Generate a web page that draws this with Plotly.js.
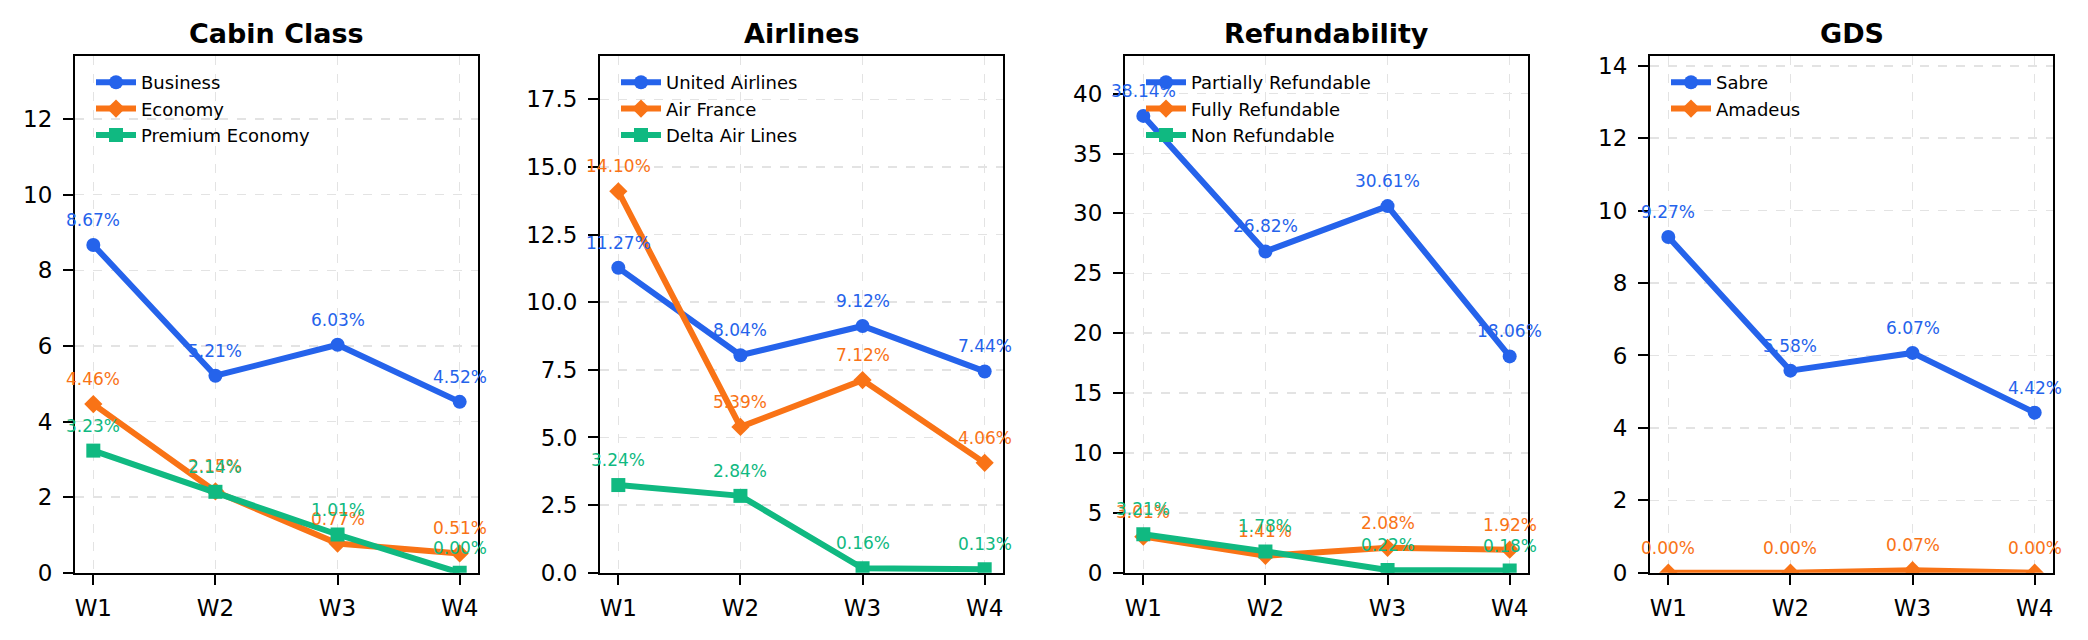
<!DOCTYPE html>
<html>
<head>
<meta charset="utf-8">
<script src="https://cdn.plot.ly/plotly-3.0.1.min.js"></script>
<style>
  html, body { margin: 0; padding: 0; background: #fff; }
  #chart { width: 2088px; height: 640px; }
</style>
</head>
<body>
<div id="chart"></div>
<script>
// weeks on the x axis
var weeks = ["W1", "W2", "W3", "W4"];

// Cabin Class
var cabinNames = ["Business", "Economy", "Premium Economy"];
var business = [8.67, 5.21, 6.03, 4.52];
var economy = [4.46, 2.15, 0.77, 0.51];
var premiumEconomy = [3.23, 2.14, 1.01, 0.00];

// Airlines
var airlineNames = ["United Airlines", "Air France", "Delta Air Lines"];
var united = [11.27, 8.04, 9.12, 7.44];
var airFrance = [14.10, 5.39, 7.12, 4.06];
var delta = [3.24, 2.84, 0.16, 0.13];

// Refundability
var refundNames = ["Partially Refundable", "Fully Refundable", "Non Refundable"];
var partiallyRefundable = [38.14, 26.82, 30.61, 18.06];
var fullyRefundable = [3.01, 1.41, 2.08, 1.92];
var nonRefundable = [3.21, 1.78, 0.22, 0.18];

// GDS
var gdsNames = ["Sabre", "Amadeus"];
var sabre = [9.27, 5.58, 6.07, 4.42];
var amadeus = [0.00, 0.00, 0.07, 0.00];

var panelTitles = ["Cabin Class", "Airlines", "Refundability", "GDS"];

var colors = ["#2563eb", "#f97316", "#10b981"];
var symbols = ["circle", "diamond", "square"];
var markerSizes = [14, 14, 14];
var FONT = "DejaVu Sans, Verdana, sans-serif";

var panels = [
  { names: cabinNames, series: [business, economy, premiumEconomy], dtick: 2, fmt: "d" },
  { names: airlineNames, series: [united, airFrance, delta], dtick: 2.5, fmt: ".1f" },
  { names: refundNames, series: [partiallyRefundable, fullyRefundable, nonRefundable], dtick: 5, fmt: "d" },
  { names: gdsNames, series: [sabre, amadeus], dtick: 2, fmt: "d" }
];

// panel placement in pixels (left, right) and plot top/bottom
var W = 2088, H = 640;
var lefts = [75, 600, 1125, 1650];
var panelW = 403;
var plotTop = 56, plotBottom = 572.7;
var yDom = [(H - plotBottom) / H, (H - plotTop) / H];

var traces = [];
var annotations = [];
var layout = {
  width: W,
  height: H,
  margin: { l: 0, r: 0, t: 0, b: 0 },
  paper_bgcolor: "#fff",
  plot_bgcolor: "#fff",
  font: { family: FONT, color: "#000" },
  showlegend: true
};

panels.forEach(function (p, i) {
  var n = i === 0 ? "" : String(i + 1);
  var xa = "x" + n, ya = "y" + n;
  var legendId = "legend" + n;
  var maxVal = 0;

  p.series.forEach(function (vals, j) {
    vals.forEach(function (v) { if (v > maxVal) maxVal = v; });
    traces.push({
      x: weeks,
      y: vals,
      name: p.names[j],
      type: "scatter",
      mode: "lines+markers",
      xaxis: xa,
      yaxis: ya,
      legend: legendId,
      line: { color: colors[j], width: 6 },
      marker: { color: colors[j], symbol: symbols[j], size: markerSizes[j] },
      hoverinfo: "skip"
    });
    vals.forEach(function (v, k) {
      annotations.push({
        x: weeks[k],
        y: v,
        xref: xa,
        yref: ya,
        text: v.toFixed(2) + "%",
        showarrow: false,
        xanchor: "center",
        yanchor: "bottom",
        yshift: 13,
        font: { family: FONT, size: 17, color: colors[j] }
      });
    });
  });

  var x0 = lefts[i] / W, x1 = (lefts[i] + panelW) / W;
  var axisStyle = {
    showline: true,
    mirror: true,
    linecolor: "#000",
    linewidth: 2,
    ticks: "outside",
    ticklen: 10,
    tickwidth: 2,
    tickcolor: "#000",
    tickfont: { family: FONT, size: 23, color: "#000" },
    showgrid: true,
    gridcolor: "#e3e3e3",
    griddash: "dash",
    gridwidth: 1.5,
    zeroline: false,
    fixedrange: true
  };

  layout["xaxis" + n] = Object.assign({}, axisStyle, {
    domain: [x0, x1],
    anchor: ya,
    type: "category",
    range: [-0.15, 3.15],
    ticklabelstandoff: 4
  });
  layout["yaxis" + n] = Object.assign({}, axisStyle, {
    domain: yDom,
    anchor: xa,
    range: [0, maxVal + 5],
    dtick: p.dtick,
    tick0: 0,
    tickformat: p.fmt,
    ticklabelstandoff: 6
  });

  layout[legendId] = {
    x: (lefts[i] + 16) / W,
    y: yDom[1] - 8 / H,
    xanchor: "left",
    yanchor: "top",
    bgcolor: "rgba(0,0,0,0)",
    borderwidth: 0,
    font: { family: FONT, size: 18, color: "#000" },
    itemwidth: 40,
    tracegroupgap: 0
  };

  annotations.push({
    x: (x0 + x1) / 2,
    y: yDom[1],
    xref: "paper",
    yref: "paper",
    text: "<b>" + panelTitles[i] + "</b>",
    showarrow: false,
    xanchor: "center",
    yanchor: "bottom",
    yshift: 5,
    font: { family: FONT, size: 27, color: "#000" }
  });
});

layout.annotations = annotations;

Plotly.newPlot("chart", traces, layout, { staticPlot: true, displayModeBar: false });
</script>
</body>
</html>
